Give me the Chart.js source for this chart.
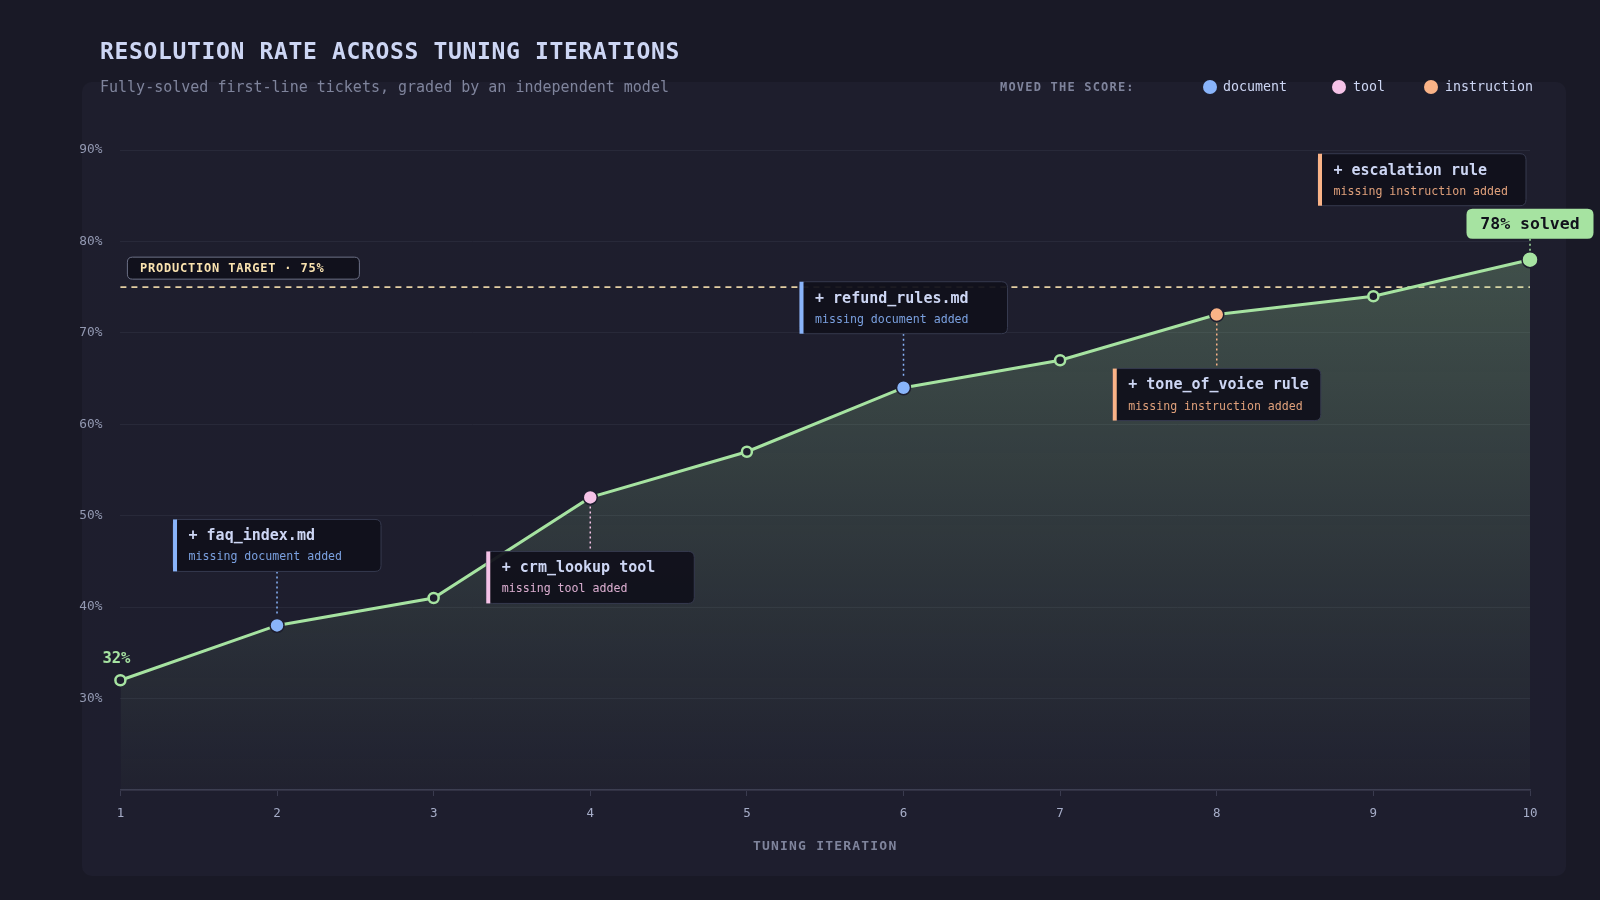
<!DOCTYPE html>
<html>
<head>
<meta charset="utf-8">
<script src="https://cdn.jsdelivr.net/npm/chart.js@4.4.0/dist/chart.umd.min.js"></script>
<style>
  html, body { margin: 0; padding: 0; }
  body {
    width: 1600px; height: 900px; overflow: hidden; position: relative;
    background: #191926;
    font-family: "DejaVu Sans Mono", monospace;
  }
  .card {
    position: absolute; left: 82px; top: 82px; width: 1484px; height: 794px;
    background: linear-gradient(180deg, #1e1e2d 0%, #1e1e2e 100%);
    border-radius: 10px;
  }
  #grafico { position: absolute; left: 0; top: 0; width: 1600px; height: 900px; }
  .txt { position: absolute; white-space: nowrap; line-height: 1; }
  .titulo { left: 100px; top: 40px; font-size: 23px; font-weight: bold; color: #cdd6f4; letter-spacing: 0.65px; }
  .sub { left: 100px; top: 80px; font-size: 15px; color: #7f849c; }
  .moved { left: 1000px; top: 81px; font-size: 12px; font-weight: bold; color: #7f849c; letter-spacing: 1.2px; }
  .leg { top: 80px; font-size: 13.3px; color: #cdd6f4; }
  .dot { position: absolute; top: 79.7px; width: 14px; height: 14px; border-radius: 50%; }
</style>
</head>
<body>
<div class="card"></div>
<canvas id="grafico" width="1600" height="900"></canvas>
<div class="txt titulo">RESOLUTION RATE ACROSS TUNING ITERATIONS</div>
<div class="txt sub">Fully-solved first-line tickets, graded by an independent model</div>
<div class="txt moved">MOVED THE SCORE:</div>
<div class="dot" style="left:1203px;background:#89b4fa"></div>
<div class="txt leg" style="left:1223px">document</div>
<div class="dot" style="left:1332px;background:#f5c2e7"></div>
<div class="txt leg" style="left:1353px">tool</div>
<div class="dot" style="left:1424px;background:#fab387"></div>
<div class="txt leg" style="left:1445px">instruction</div>
<script>
// dados do gráfico
const iteracoes = ['1', '2', '3', '4', '5', '6', '7', '8', '9', '10'];
const taxaResolucao = [32, 38, 41, 52, 57, 64, 67, 72, 74, 78];
const metaProducao = 75;
const ticksY = [30, 40, 50, 60, 70, 80, 90];

// eventos que mexeram no score
const eventoIteracao = [2, 4, 6, 8, 10];
const eventoTitulo = ['+ faq_index.md', '+ crm_lookup tool', '+ refund_rules.md', '+ tone_of_voice rule', '+ escalation rule'];
const eventoTipo = ['document', 'tool', 'document', 'instruction', 'instruction'];
const eventoLado = ['above', 'below', 'above', 'below', 'above'];

const cores = { document: '#89b4fa', tool: '#f5c2e7', instruction: '#fab387' };
const verde = '#a6e3a1';
const fundo = '#1e1e2e';
const fonte = '"DejaVu Sans Mono", monospace';

function tipoDoPonto(i) {
    if (i === iteracoes.length - 1) return 'final';
    const k = eventoIteracao.indexOf(i + 1);
    return k >= 0 ? eventoTipo[k] : null;
}

function caixaArredondada(ctx, x, y, w, h, r) {
    ctx.beginPath();
    ctx.moveTo(x + r, y);
    ctx.lineTo(x + w - r, y);
    ctx.quadraticCurveTo(x + w, y, x + w, y + r);
    ctx.lineTo(x + w, y + h - r);
    ctx.quadraticCurveTo(x + w, y + h, x + w - r, y + h);
    ctx.lineTo(x + r, y + h);
    ctx.quadraticCurveTo(x, y + h, x, y + h - r);
    ctx.lineTo(x, y + r);
    ctx.quadraticCurveTo(x, y, x + r, y);
    ctx.closePath();
}

function linhaPontilhada(ctx, x, y1, y2, cor) {
    ctx.save();
    ctx.setLineDash([2, 3]);
    ctx.strokeStyle = cor;
    ctx.lineWidth = 1.5;
    ctx.beginPath();
    ctx.moveTo(x, y1);
    ctx.lineTo(x, y2);
    ctx.stroke();
    ctx.restore();
}

const anotacoes = {
    id: 'anotacoes',
    beforeDatasetsDraw(chart) {
        const { ctx, chartArea, scales: { y } } = chart;
        const ty = y.getPixelForValue(metaProducao);
        ctx.save();
        ctx.setLineDash([6, 5]);
        ctx.strokeStyle = 'rgba(249,226,175,0.9)';
        ctx.lineWidth = 1.6;
        ctx.beginPath();
        ctx.moveTo(chartArea.left, ty);
        ctx.lineTo(chartArea.right, ty);
        ctx.stroke();
        ctx.setLineDash([]);
        // etiqueta da meta
        const bx = chartArea.left + 7, bh = 22, by = ty - 8 - bh, bw = 232;
        caixaArredondada(ctx, bx, by, bw, bh, 5);
        ctx.fillStyle = 'rgba(17,17,27,0.95)';
        ctx.fill();
        ctx.strokeStyle = '#6c7086';
        ctx.lineWidth = 1;
        ctx.stroke();
        ctx.font = 'bold 12px ' + fonte;
        ctx.letterSpacing = '0.8px';
        ctx.fillStyle = '#f9e2af';
        ctx.textBaseline = 'middle';
        ctx.textAlign = 'left';
        ctx.fillText('PRODUCTION TARGET · ' + metaProducao + '%', bx + 12.5, by + bh / 2 + 1);
        ctx.restore();
    },
    afterDatasetsDraw(chart) {
        const { ctx, chartArea, scales: { x, y } } = chart;
        const w = 208, h = 52, gap = 54;
        ctx.save();
        eventoIteracao.forEach((it, k) => {
            const i = it - 1;
            const px = x.getPixelForValue(i);
            const py = y.getPixelForValue(taxaResolucao[i]);
            const cor = cores[eventoTipo[k]];
            let bx = px - w / 2;
            bx = Math.max(chartArea.left + 4, Math.min(bx, chartArea.right - 4 - w));
            const by = eventoLado[k] === 'above' ? py - gap - h : py + gap;
            if (it !== iteracoes.length) {
                if (eventoLado[k] === 'above') linhaPontilhada(ctx, px, by + h, py - 9, cor);
                else linhaPontilhada(ctx, px, py + 9, by, cor);
            }
            caixaArredondada(ctx, bx, by, w, h, 6);
            ctx.fillStyle = 'rgba(17,17,27,0.95)';
            ctx.fill();
            ctx.strokeStyle = '#363a4f';
            ctx.lineWidth = 1;
            ctx.stroke();
            ctx.fillStyle = cor;
            ctx.fillRect(bx, by, 4, h);
            ctx.textAlign = 'left';
            ctx.textBaseline = 'middle';
            ctx.font = 'bold 15px ' + fonte;
            ctx.fillStyle = '#cdd6f4';
            ctx.fillText(eventoTitulo[k], bx + 15.5, by + 17);
            ctx.font = '11.6px ' + fonte;
            ctx.globalAlpha = 0.88;
            ctx.fillStyle = cor;
            ctx.fillText('missing ' + eventoTipo[k] + ' added', bx + 15.5, by + 38);
            ctx.globalAlpha = 1;
        });

        // selo final
        const ult = iteracoes.length - 1;
        const fx = x.getPixelForValue(ult);
        const fy = y.getPixelForValue(taxaResolucao[ult]);
        const sw = 127, sh = 30, sy = fy - 21 - sh;
        linhaPontilhada(ctx, fx, sy + sh, fy - 9, verde);
        caixaArredondada(ctx, fx - sw / 2, sy, sw, sh, 6);
        ctx.fillStyle = verde;
        ctx.fill();
        ctx.font = 'bold 16.5px ' + fonte;
        ctx.fillStyle = '#11111b';
        ctx.textAlign = 'center';
        ctx.fillText(taxaResolucao[ult] + '% solved', fx, sy + sh / 2 + 1);

        // valor inicial
        const ix = x.getPixelForValue(0);
        const iy = y.getPixelForValue(taxaResolucao[0]);
        ctx.font = 'bold 15.5px ' + fonte;
        ctx.fillStyle = verde;
        ctx.fillText(taxaResolucao[0] + '%', ix - 4, iy - 21);

        // titulo do eixo x
        ctx.font = 'bold 13px ' + fonte;
        ctx.letterSpacing = '1.2px';
        ctx.fillStyle = '#7f849c';
        ctx.fillText('TUNING ITERATION', (chartArea.left + chartArea.right) / 2, 847);
        ctx.restore();
    }
};

const ctx = document.getElementById('grafico').getContext('2d');

const grafico = new Chart(ctx, {
    type: 'line',
    data: {
        labels: iteracoes,
        datasets: [{
            data: taxaResolucao,
            borderColor: verde,
            borderWidth: 3,
            tension: 0,
            fill: 'start',
            backgroundColor: (c) => {
                const area = c.chart.chartArea;
                if (!area) return 'rgba(166,227,161,0.15)';
                const g = c.chart.ctx.createLinearGradient(0, c.chart.scales.y.getPixelForValue(80), 0, area.bottom);
                g.addColorStop(0, 'rgba(166,227,161,0.26)');
                g.addColorStop(1, 'rgba(166,227,161,0.02)');
                return g;
            },
            pointRadius: (c) => {
                const t = tipoDoPonto(c.dataIndex);
                return t === 'final' ? 8 : t ? 7 : 5;
            },
            pointBackgroundColor: (c) => {
                const t = tipoDoPonto(c.dataIndex);
                return t === 'final' ? verde : t ? cores[t] : fundo;
            },
            pointBorderColor: (c) => tipoDoPonto(c.dataIndex) ? fundo : verde,
            pointBorderWidth: (c) => tipoDoPonto(c.dataIndex) ? 1.5 : 2.5
        }]
    },
    options: {
        responsive: false,
        animation: false,
        layout: { padding: { left: 0, top: 150, right: 70, bottom: 0 } },
        plugins: { legend: { display: false }, tooltip: { enabled: false } },
        scales: {
            x: {
                grid: { drawOnChartArea: false, drawTicks: true, tickLength: 6, color: '#3a3b4f' },
                border: { color: '#3a3b4f', width: 1.5 },
                ticks: { color: '#a6adc8', font: { family: fonte, size: 12.5 }, padding: 10, maxRotation: 0 },
                afterFit: (s) => { s.height = 110; }
            },
            y: {
                min: 20,
                max: 90,
                afterBuildTicks: (s) => { s.ticks = [20].concat(ticksY).map(v => ({ value: v })); },
                grid: { color: '#282939', drawTicks: false },
                border: { display: false },
                ticks: {
                    color: '#9399b2',
                    font: { family: fonte, size: 12.8 },
                    padding: 18,
                    callback: (v) => v === 20 ? '' : v + '%'
                },
                afterFit: (s) => { s.width = 120.4; }
            }
        }
    },
    plugins: [anotacoes]
});
</script>
</body>
</html>
